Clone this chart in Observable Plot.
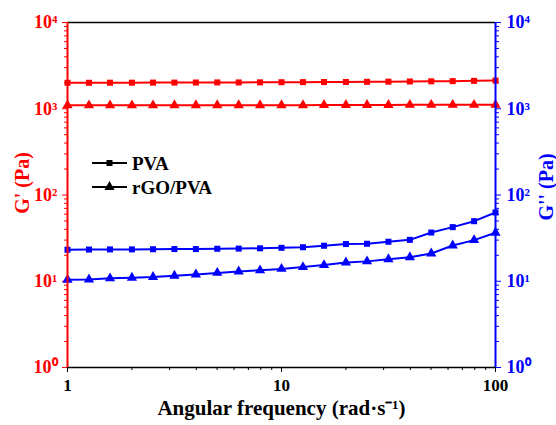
<!DOCTYPE html>
<html><head><meta charset="utf-8">
<script src="https://cdn.jsdelivr.net/npm/d3@7"></script>
<script src="https://cdn.jsdelivr.net/npm/@observablehq/plot@0.6"></script>
</head><body style="margin:0;background:#fff;font-family:'Liberation Serif';font-weight:bold">
<div id="chart" style="position:relative;width:556px;height:425px;font-family:'Liberation Serif';font-weight:bold"><div id="legend" style="position:absolute;left:90px;top:150px"></div></div>
<script>
// angular frequency (rad/s)
const freq = [1, 1.26, 1.58, 2, 2.51, 3.16, 3.98, 5.01, 6.31, 7.94, 10, 12.6, 15.8, 20, 25.1, 31.6, 39.8, 50.1, 63.1, 79.4, 100];
// storage modulus G' (Pa)
const gPrimePVA = [2000, 2000, 2005, 2005, 2010, 2010, 2015, 2020, 2020, 2025, 2030, 2035, 2040, 2045, 2050, 2060, 2070, 2080, 2090, 2105, 2120];
const gPrimeRGO = [1095, 1095, 1095, 1095, 1095, 1100, 1100, 1100, 1100, 1100, 1100, 1100, 1105, 1105, 1105, 1105, 1110, 1110, 1110, 1110, 1110];
// loss modulus G'' (Pa)
const gDoublePVA = [23.2, 23.3, 23.4, 23.4, 23.5, 23.6, 23.6, 23.8, 23.9, 24.1, 24.4, 24.8, 25.8, 27.0, 27.2, 28.7, 30.2, 36.7, 42.4, 49.7, 62.7];
const gDoubleRGO = [10.4, 10.5, 10.8, 11.0, 11.2, 11.6, 12.0, 12.5, 13.0, 13.4, 13.9, 14.6, 15.4, 16.5, 17.0, 18.0, 19.0, 21.0, 26.0, 30.0, 36.5];

const seriesNames = ["PVA", "rGO/PVA"];
const xTicks = [1, 10, 100];
const xMinor = [2,3,4,5,6,7,8,9,20,30,40,50,60,70,80,90];
const yTicks = [1, 10, 100, 1000, 10000];
const yMinor = [1,10,100,1000].flatMap(d => [2,3,4,5,6,7,8,9].map(m => d*m));
const leftLabel = "G' (Pa)";
const rightLabel = "G'' (Pa)";
const xLabel = "Angular frequency (rad·s⁻¹)";

const FONT = "Liberation Serif";
const RED = "#ff0000", BLUE = "#0000ff";
const sup = {"0":"⁰","1":"¹","2":"²","3":"³","4":"⁴"};
const fmtPow = d => "10" + sup[String(Math.round(Math.log10(d)))];

const mk = (ys, name, kind) => freq.map((f, i) => ({x: f, y: ys[i], series: name, kind}));
const redPVA = mk(gPrimePVA, seriesNames[0], "G'");
const redRGO = mk(gPrimeRGO, seriesNames[1], "G'");
const bluePVA = mk(gDoublePVA, seriesNames[0], "G''");
const blueRGO = mk(gDoubleRGO, seriesNames[1], "G''");

const lineMarks = (data, color, symbol, r) => [
  Plot.line(data, {x: "x", y: "y", stroke: color, strokeWidth: 2}),
  Plot.dot(data, {x: "x", y: "y", symbol, fill: color, stroke: "none", r})
];

const chart = Plot.plot({
  width: 556, height: 425,
  marginLeft: 67, marginRight: 61, marginTop: 22, marginBottom: 58,
  style: {fontFamily: FONT, fontWeight: "bold", background: "white", overflow: "visible"},
  x: {type: "log", domain: [1, 100]},
  y: {type: "log", domain: [1, 10000]},
  marks: [
    Plot.ruleY([10000], {stroke: "black", strokeWidth: 1.5}),
    Plot.ruleY([1], {stroke: "black", strokeWidth: 1.5}),
    Plot.axisX(xTicks, {anchor: "bottom", tickSize: 5, tickPadding: 6, tickFormat: d => String(d), color: "black", fontSize: 17, label: null}),
    Plot.axisX(xMinor, {anchor: "bottom", tickSize: 3, tickFormat: () => "", color: "black", label: null}),
    Plot.axisY(yTicks, {anchor: "left", tickSize: 5, tickPadding: 5, tickFormat: fmtPow, color: RED, fontSize: 18, label: null}),
    Plot.axisY(yMinor, {anchor: "left", tickSize: 3, tickFormat: () => "", color: RED, label: null}),
    Plot.axisY(yTicks, {anchor: "right", tickSize: 5, tickPadding: 6, tickFormat: fmtPow, color: BLUE, fontSize: 18, label: null}),
    Plot.axisY(yMinor, {anchor: "right", tickSize: 3, tickFormat: () => "", color: BLUE, label: null}),
    ...lineMarks(redPVA, RED, "square", 3.4),
    ...lineMarks(redRGO, RED, "triangle", 3.8),
    ...lineMarks(bluePVA, BLUE, "square", 3.4),
    ...lineMarks(blueRGO, BLUE, "triangle", 3.8),
    Plot.ruleX([1], {stroke: RED, strokeWidth: 2}),
    Plot.ruleX([100], {stroke: BLUE, strokeWidth: 2}),
    Plot.text([leftLabel], {frameAnchor: "left", textAnchor: "middle", rotate: -90, dx: -45, dy: -12, fill: RED, fontSize: 20}),
    Plot.text([rightLabel], {frameAnchor: "right", textAnchor: "middle", rotate: -90, dx: 51, dy: -8, fill: BLUE, fontSize: 20}),
    Plot.text([xLabel], {frameAnchor: "bottom", textAnchor: "middle", dy: 47, fill: "black", fontSize: 21})
  ]
});
document.getElementById("chart").prepend(chart);

// legend
const lg = d3.select("#legend").append("svg").attr("width", 150).attr("height", 50);
seriesNames.forEach((name, i) => {
  const y = 13 + i * 24;
  lg.append("line").attr("x1", 2).attr("x2", 37).attr("y1", y).attr("y2", y).attr("stroke", "black").attr("stroke-width", 2);
  const sym = i === 0 ? d3.symbolSquare : d3.symbolTriangle;
  const r = i === 0 ? 3.4 : 3.8;
  lg.append("path").attr("d", d3.symbol(sym, Math.PI * r * r)()).attr("transform", `translate(19.5,${y})`).attr("fill", "black");
  lg.append("text").attr("x", 42).attr("y", y).attr("dy", "0.35em").attr("font-size", 19).text(name);
});
document.querySelectorAll("#chart text").forEach(t => t.setAttribute("style", "font-family:'Liberation Serif';font-weight:bold"));
</script>
</body></html>
